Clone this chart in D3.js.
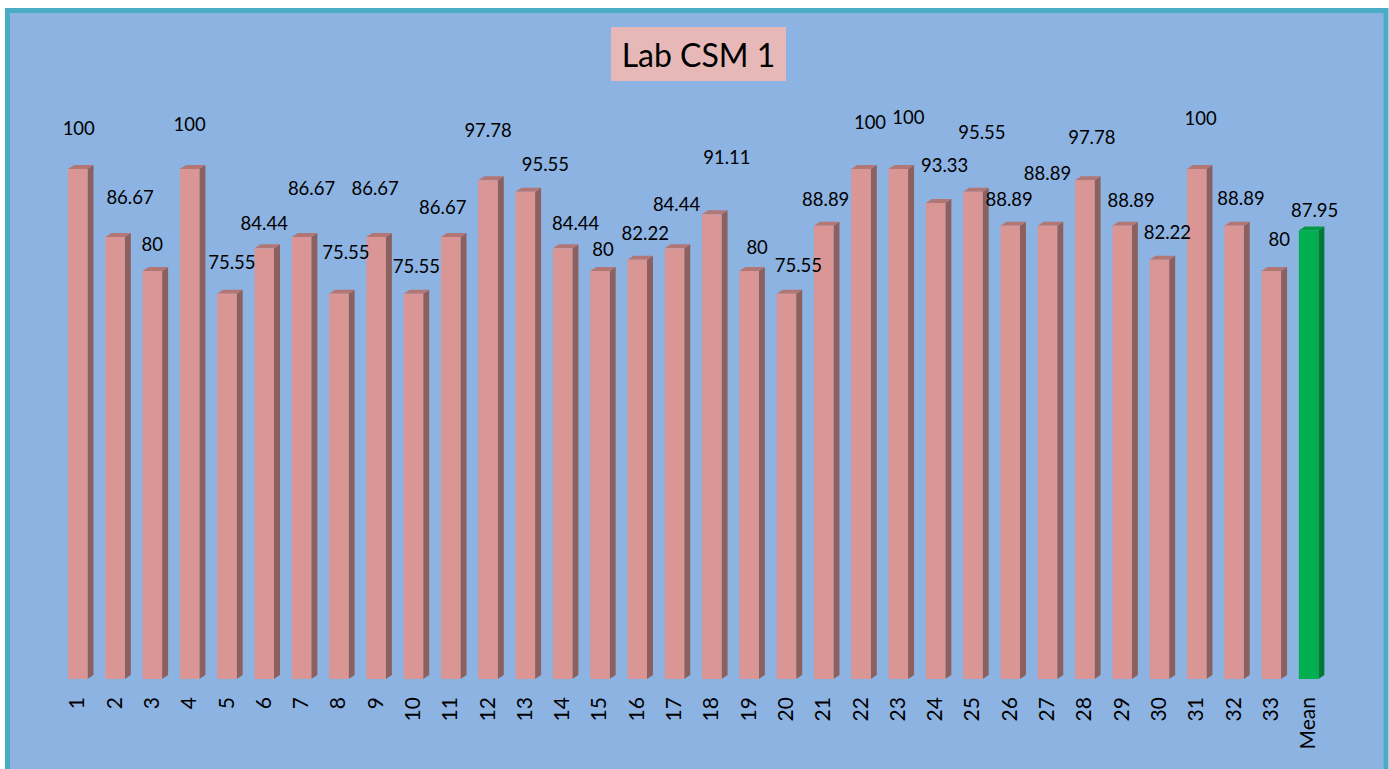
<!DOCTYPE html>
<html><head><meta charset="utf-8">
<script src="https://cdn.jsdelivr.net/npm/d3@7/dist/d3.min.js"></script>
<style>html,body{margin:0;padding:0;background:#fff;overflow:hidden}</style>
</head><body>
<svg id="c" width="1389" height="769"></svg>
<script>
const title = "Lab CSM 1";
const categories = ["1","2","3","4","5","6","7","8","9","10","11","12","13","14","15","16","17","18","19","20","21","22","23","24","25","26","27","28","29","30","31","32","33","Mean"];
const values = [100,86.67,80,100,75.55,84.44,86.67,75.55,86.67,75.55,86.67,97.78,95.55,84.44,80,82.22,84.44,91.11,80,75.55,88.89,100,100,93.33,95.55,88.89,88.89,97.78,88.89,82.22,100,88.89,80,87.95];
const labels = ["100","86.67","80","100","75.55","84.44","86.67","75.55","86.67","75.55","86.67","97.78","95.55","84.44","80","82.22","84.44","91.11","80","75.55","88.89","100","100","93.33","95.55","88.89","88.89","97.78","88.89","82.22","100","88.89","80","87.95"];
// manual nudges of the data labels (as placed in the original chart), relative to the bar top
const labelNudgeX = [1,15,0,0,5,0,10,7,-1,3,-8,0,20,13,3,8,2,15,8,12,2,9,10,9,9,-1,0,7,9,8,4,7,8,6];
const labelNudgeY = [-41,-40,-27,-45,-31,-25,-49,-41,-49,-27,-30,-50,-27,-25,-22,-26,-44,-57,-24,-28,-26,-47,-52,-38,-59,-26,-52,-43,-25,-27,-51,-27,-32,-20];

const svg = d3.select("#c");
const font = "Lato, 'Open Sans', sans-serif";

// frame
svg.append("rect").attr("x",7.5).attr("y",10.5).attr("width",1378.5).attr("height",800)
  .attr("fill","#8DB3E2").attr("stroke","#4BACC6").attr("stroke-width",5);

const x = d3.scaleBand().domain(categories).range([49.35,1337]).paddingInner(0.477).paddingOuter(0.5);
const y = d3.scaleLinear().domain([0,100]).range([679,169]);
const dx = 6, dy = 4;

const data = categories.map((c,i)=>({c, v:values[i], l:labels[i], nx:labelNudgeX[i], ny:labelNudgeY[i], mean:c==="Mean"}));
const col = d => d.mean ? {front:"#00B050", side:"#007A36", top:"#009944"} : {front:"#D99694", side:"#8C605E", top:"#B27674"};

const g = svg.append("g");
const bw = x.bandwidth();
data.forEach(d=>{
  const x0 = x(d.c), x1 = x0 + bw, yt = y(d.v), yb = y(0);
  const c = col(d);
  g.append("path").attr("d",`M${x1},${yt}L${x1+dx},${yt-dy}L${x1+dx},${yb-dy}L${x1},${yb}Z`).attr("fill",c.side);
  g.append("path").attr("d",`M${x0},${yt}L${x0+dx},${yt-dy}L${x1+dx},${yt-dy}L${x1},${yt}Z`).attr("fill",c.top);
  g.append("rect").attr("x",x0).attr("y",yt).attr("width",bw).attr("height",yb-yt).attr("fill",c.front);
});

// value labels
svg.append("g").selectAll("text").data(data).join("text")
  .attr("x",d=>x(d.c)+bw/2+d.nx).attr("y",d=>y(d.v)+d.ny)
  .attr("dy","0.36em")
  .attr("text-anchor","middle")
  .style("font-family",font).style("font-size","18.5px").style("fill","#000")
  .text(d=>d.l);

// x axis labels (rotated)
const xAxis = d3.axisBottom(x).tickSize(0).tickPadding(0);
const ax = svg.append("g").attr("transform","translate(0,697)").call(xAxis);
ax.select(".domain").remove();
ax.selectAll(".tick text")
  .attr("x",0).attr("y",0).attr("dy","0.36em")
  .attr("text-anchor","end")
  .attr("transform","translate(-1,0) rotate(-90)")
  .style("font-family",font).style("font-size","21px").style("fill","#000");

// title
svg.append("rect").attr("x",611).attr("y",27).attr("width",175).attr("height",54).attr("fill","#E6B9B8");
svg.append("text").attr("x",698.5).attr("y",67).attr("text-anchor","middle")
  .style("font-family",font).style("font-size","32px").style("fill","#000").text(title);
</script>
</body></html>
